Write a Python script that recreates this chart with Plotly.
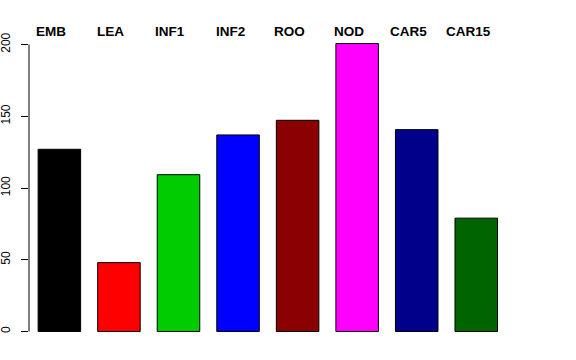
import plotly.graph_objects as go

categories = ["EMB", "LEA", "INF1", "INF2", "ROO", "NOD", "CAR5", "CAR15"]
values = [127, 48, 109.3, 137, 147.2, 200.7, 140.7, 79]
colors = ["#000000", "#FF0000", "#00CD00", "#0000FF", "#8B0000", "#FF00FF", "#00008B", "#006400"]
y_ticks = [0, 50, 100, 150, 200]

FONT = "Liberation Sans, Arial, Helvetica, sans-serif"

fig = go.Figure()
fig.add_trace(go.Bar(
    x=list(range(len(categories))),
    y=values,
    marker=dict(color=colors, line=dict(color="#000000", width=1)),
    width=0.714,
    hoverinfo="skip",
))

for i, name in enumerate(categories):
    fig.add_annotation(
        x=i, y=1, xref="x", yref="paper",
        text=f"<b>{name}</b>", showarrow=False,
        xanchor="center", yanchor="middle", xshift=-8, yshift=1,
        font=dict(family=FONT, size=13.5, color="#000000"),
    )

# R-style axis line spanning only the tick range
fig.add_shape(type="line", xref="paper", yref="y", x0=0, x1=0,
              y0=y_ticks[0], y1=y_ticks[-1], line=dict(color="#000000", width=1))

fig.update_layout(
    width=576, height=360,
    margin=dict(l=29, r=64, t=32, b=17, pad=0),
    paper_bgcolor="white", plot_bgcolor="white",
    showlegend=False,
    hovermode=False,
    font=dict(family=FONT, size=12, color="#000000"),
    xaxis=dict(range=[-0.51, 7.6], showgrid=False, zeroline=False, showline=False,
               showticklabels=False, ticks="", automargin=False),
    yaxis=dict(range=[-8.03, 208.76], tickvals=y_ticks, ticktext=[str(v) for v in y_ticks],
               showgrid=False, zeroline=False, showline=False, automargin=False,
               ticks="outside", ticklen=7, tickcolor="#000000", tickwidth=1,
               tickangle=-90, ticklabelstandoff=6,
               tickfont=dict(family=FONT, size=12, color="#000000")),
)

fig.write_html("out.html", config={"displayModeBar": False, "staticPlot": True},
               post_script="document.body.style.margin='0';")
